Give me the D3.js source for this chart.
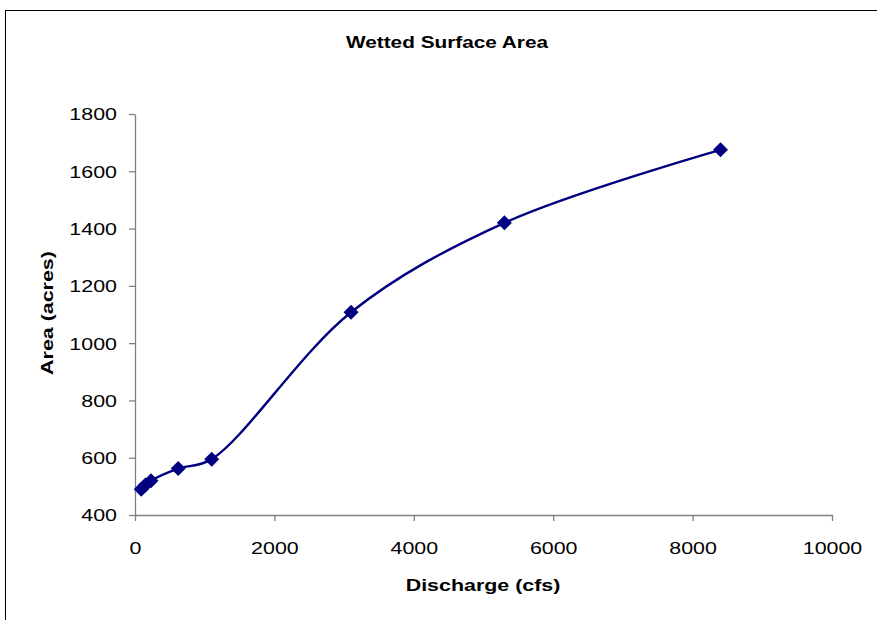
<!DOCTYPE html>
<html>
<head>
<meta charset="utf-8">
<script src="https://cdn.jsdelivr.net/npm/d3@7"></script>
<style>
  body { margin: 0; background: #fff; }
  svg { display: block; font-family: "Liberation Sans", Arial, sans-serif; }
</style>
</head>
<body>
<svg id="chart" width="877" height="620"></svg>
<script>
const discharge = [90, 150, 230, 620, 1100, 3100, 5300, 8400];
const area = [490, 505, 520, 562, 595, 1108, 1420, 1675];
const xTicks = [0, 2000, 4000, 6000, 8000, 10000];
const yTicks = [400, 600, 800, 1000, 1200, 1400, 1600, 1800];
const title = "Wetted Surface Area";
const xTitle = "Discharge (cfs)";
const yTitle = "Area (acres)";

const svg = d3.select("#chart");
const W = 877, H = 620;
const m = { left: 135, right: 832, top: 114, bottom: 515 };
const SX = 1.26;

svg.append("rect").attr("x", 5.5).attr("y", 10.5).attr("width", W + 20).attr("height", H + 20)
  .attr("fill", "#fff").attr("stroke", "#000").attr("stroke-width", 1);

const x = d3.scaleLinear().domain([0, 10000]).range([m.left, m.right]);
const y = d3.scaleLinear().domain([400, 1800]).range([m.bottom, m.top]);

const axisColor = "#808080";

const gx = svg.append("g").attr("transform", `translate(0,${m.bottom})`)
  .call(d3.axisBottom(x).tickValues(xTicks).tickSize(6).tickSizeOuter(0).tickFormat(d3.format("d")));
const gy = svg.append("g").attr("transform", `translate(${m.left},0)`)
  .call(d3.axisLeft(y).tickValues(yTicks).tickSize(6).tickSizeOuter(0).tickFormat(d3.format("d")));

[gx, gy].forEach(g => {
  g.select(".domain").attr("stroke", axisColor).attr("stroke-width", 1.3);
  g.selectAll(".tick line").attr("stroke", axisColor).attr("stroke-width", 1.3);
  g.selectAll(".tick text").attr("fill", "#000").attr("font-size", "17px")
   .attr("font-family", "Liberation Sans, Arial, sans-serif");
});
gx.selectAll(".tick text").attr("x", null).attr("y", null).attr("dy", "0.35em")
  .attr("transform", `translate(0,33) scale(${SX},1)`);
gy.selectAll(".tick text").attr("x", null).attr("y", null).attr("dy", "0.35em")
  .attr("transform", `translate(-18,0) scale(${SX},1)`);

const pts = discharge.map((d, i) => [x(d), y(area[i])]);
const line = d3.line().curve(d3.curveCatmullRom.alpha(0.5));
svg.append("path").attr("d", line(pts)).attr("fill", "none")
  .attr("stroke", "#000080").attr("stroke-width", 2.4);

const s = 7.5;
svg.selectAll("path.mk").data(pts).enter().append("path").attr("class", "mk")
  .attr("d", d => `M${d[0]},${d[1]-s}L${d[0]+s},${d[1]}L${d[0]},${d[1]+s}L${d[0]-s},${d[1]}Z`)
  .attr("fill", "#000080");

svg.append("text").attr("transform", `translate(447,48) scale(${SX},1)`).attr("text-anchor", "middle")
  .attr("font-weight", "bold").attr("font-size", "16.5px").text(title);
svg.append("text").attr("transform", `translate(483,591) scale(${SX},1)`).attr("text-anchor", "middle")
  .attr("font-weight", "bold").attr("font-size", "17px").text(xTitle);
svg.append("text").attr("transform", `translate(53,313) rotate(-90) scale(${SX},1)`).attr("text-anchor", "middle")
  .attr("font-weight", "bold").attr("font-size", "17px").text(yTitle);
</script>
</body>
</html>
